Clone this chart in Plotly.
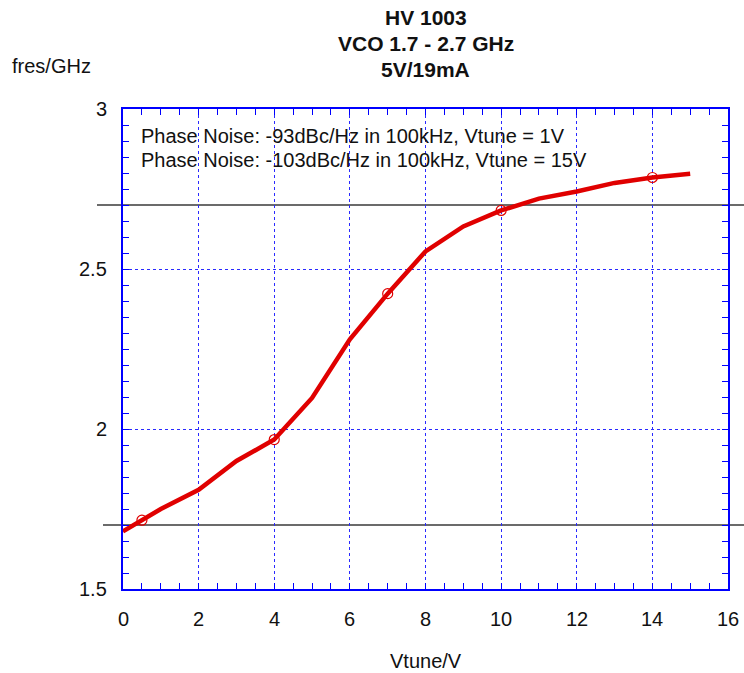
import plotly.graph_objects as go

# ---- data ----
vtune = [0, 0.5, 1, 2, 3, 4, 5, 6, 7, 8, 9, 10, 11, 12, 13, 14, 15]
fres = [1.68, 1.715, 1.75, 1.81, 1.90, 1.967, 2.097, 2.28, 2.423, 2.555,
        2.633, 2.683, 2.72, 2.742, 2.769, 2.786, 2.798]
marked_vtune = [0.5, 4, 7, 10, 14]
marked_fres = [fres[vtune.index(v)] for v in marked_vtune]
band_limits = [1.7, 2.7]
title_lines = ["HV 1003", "VCO 1.7 - 2.7 GHz", "5V/19mA"]
notes = ["Phase Noise: -93dBc/Hz in 100kHz, Vtune = 1V",
         "Phase Noise: -103dBc/Hz in 100kHz, Vtune = 15V"]
x_ticks = list(range(0, 17, 2))
x_tick_text = [str(v) for v in x_ticks]
y_ticks = [1.5, 2, 2.5, 3]
y_tick_text = ["1.5", "2", "2.5", "3"]

FONT = "Liberation Sans, Arial, sans-serif"
RED = "#e00000"
BLUE = "#0000ff"
GRID = "#2a2aff"
TXT = "#111"

W, H = 744, 673
L, T = 123, 109
R = W - 728
B = H - 589
pw = W - L - R
ph = H - T - B


def px(xr):
    return (xr - L) / pw


def py(yr):
    return (H - B - yr) / ph


fig = go.Figure()
fig.add_trace(go.Scatter(x=vtune, y=fres, mode="lines",
                         line=dict(color=RED, width=4.5), hoverinfo="skip",
                         showlegend=False))
fig.add_trace(go.Scatter(x=marked_vtune, y=marked_fres, mode="markers",
                         marker=dict(symbol="circle-open", size=10,
                                     color=RED, line=dict(width=1.2, color=RED)),
                         hoverinfo="skip", showlegend=False))

# reference levels extending beyond the frame
for lvl, left_px in zip(band_limits, [103, 97]):
    fig.add_shape(type="line", xref="paper", yref="y",
                  x0=px(left_px), x1=px(744), y0=lvl, y1=lvl,
                  line=dict(color="#3a3a3a", width=1.5), layer="between")

axis_common = dict(showline=True, linecolor=BLUE, linewidth=1.5, mirror="ticks",
                   showgrid=True, gridcolor=GRID, griddash="dot", gridwidth=1,
                   zeroline=False, ticks="inside", ticklen=6, tickcolor=BLUE,
                   tickwidth=1, showticklabels=False, fixedrange=True)

fig.update_xaxes(range=[0, 16], tickvals=x_ticks,
                 minor=dict(dtick=0.5, ticks="inside", ticklen=6,
                            tickcolor=BLUE, showgrid=False),
                 **axis_common)
fig.update_yaxes(range=[1.5, 3], tickvals=y_ticks,
                 minor=dict(dtick=0.05, ticks="inside", ticklen=6,
                            tickcolor=BLUE, showgrid=False),
                 **axis_common)

annotations = []
# tick labels
for v, t in zip(x_ticks, x_tick_text):
    annotations.append(dict(text=t, xref="x", yref="paper", x=v, y=py(619),
                            xanchor="center", yanchor="middle", showarrow=False,
                            font=dict(family=FONT, size=20, color=TXT)))
for v, t in zip(y_ticks, y_tick_text):
    annotations.append(dict(text=t, xref="paper", yref="y", x=px(109), y=v,
                            xanchor="right", yanchor="middle", showarrow=False,
                            font=dict(family=FONT, size=20, color=TXT)))
for i, t in enumerate(notes):
    annotations.append(dict(text=t, xref="paper", yref="paper",
                            x=px(139), y=py(136 + 24 * i),
                            xanchor="left", yanchor="middle", showarrow=False,
                            font=dict(family=FONT, size=20, color=TXT)))
annotations.append(dict(text="fres/GHz", xref="paper", yref="paper",
                        x=px(10), y=py(66),
                        xanchor="left", yanchor="middle", showarrow=False,
                        font=dict(family=FONT, size=20, color=TXT)))
annotations.append(dict(text="Vtune/V", xref="paper", yref="paper",
                        x=0.5, y=py(661),
                        xanchor="center", yanchor="middle", showarrow=False,
                        font=dict(family=FONT, size=20, color=TXT)))
for i, t in enumerate(title_lines):
    annotations.append(dict(text="<b>%s</b>" % t, xref="paper", yref="paper",
                            x=0.5, y=py(18 + 26 * i),
                            xanchor="center", yanchor="middle", showarrow=False,
                            font=dict(family=FONT, size=21, color=TXT)))

fig.update_layout(width=W, height=H,
                  margin=dict(l=L, r=R, t=T, b=B, pad=0),
                  paper_bgcolor="white", plot_bgcolor="white",
                  annotations=annotations, showlegend=False,
                  hovermode=False)

fig.write_html("out.html",
               config={"displayModeBar": False},
               post_script="document.body.style.margin='0';"
                           "document.documentElement.style.margin='0';")
